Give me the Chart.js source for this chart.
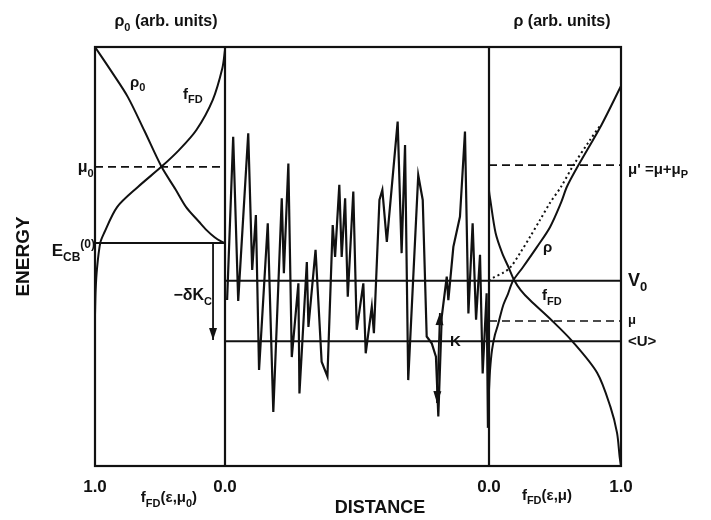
<!DOCTYPE html>
<html>
<head>
<meta charset="utf-8">
<script src="https://cdn.jsdelivr.net/npm/chart.js@4.4.1/dist/chart.umd.min.js"></script>
<style>
  body { margin: 0; background: #fff; }
  #wrap { width: 711px; height: 520px; }
</style>
</head>
<body>
<div id="wrap"><canvas id="grafico" width="711" height="520"></canvas></div>
<script>
// energy scale: 0 = bottom of frame, 100 = top (arb. units)
const mu0 = 71.4;
const eCB = 53.2;
const v0 = 44.2;
const muLevel = 34.6;
const uMean = 29.8;
const muPrime = 71.8;

// left panel, x = value (1 at left edge, 0 at the divider)
const rho0Val = [1.0, 0.87, 0.748, 0.62, 0.488, 0.38, 0.299, 0.2, 0.142, 0.08, 0.03, 0.0];
const rho0E   = [100, 94, 88.1, 80, 71.4, 66, 61.8, 58.3, 56.3, 54.6, 53.6, 53.2];
const fdLeftVal = [0.0, 0.02, 0.094, 0.22, 0.354, 0.49, 0.67, 0.83, 0.93, 0.96, 0.985, 0.995, 1.0];
const fdLeftE   = [99.3, 95, 87.4, 80.2, 75.4, 71.4, 66.6, 61.8, 55.6, 53.2, 47, 42, 36];

// middle panel: random potential vs distance (0..100)
const potD = [0.8, 3.1, 5.0, 8.8, 10.3, 11.7, 12.9, 16.2, 18.3, 21.5, 22.3, 24.0, 25.3, 27.8, 28.2,
  31.0, 31.6, 34.3, 36.6, 38.8, 40.8, 41.7, 43.3, 44.2, 45.5, 46.5, 48.6, 49.9, 52.4, 53.3,
  55.6, 56.4, 58.5, 59.6, 61.3, 65.4, 66.9, 68.2, 69.4, 73.2, 74.9, 76.4, 78.3, 79.9, 80.8,
  82.1, 84.0, 84.6, 86.5, 89.0, 90.9, 92.2, 93.8, 95.1, 96.6, 97.6, 99.1, 99.6, 100];
const potE = [39.6, 78.6, 39.4, 79.4, 46.8, 59.9, 22.9, 57.9, 12.9, 63.9, 46.0, 72.2, 26.0, 43.6, 17.3,
  48.7, 33.2, 51.6, 24.9, 21.4, 57.5, 49.9, 67.1, 49.9, 63.9, 40.4, 65.5, 32.5, 43.6, 26.9,
  38.0, 31.7, 63.5, 65.9, 53.5, 82.2, 50.8, 76.6, 20.5, 69.4, 63.5, 30.9, 29.3, 26.1, 11.8,
  35.6, 45.2, 39.6, 52.3, 59.5, 79.8, 36.4, 57.9, 34.9, 50.4, 22.1, 41.2, 9.1, 32.0];

// right panel, x = value (0 at the divider, 1 at right edge)
const fdRightVal = [0.0, 0.0, 0.01, 0.05, 0.10, 0.15, 0.19, 0.24, 0.31, 0.48, 0.63, 0.82, 0.92, 0.97, 0.99, 1.0];
const fdRightE   = [80, 66, 63.5, 55.6, 50.8, 47.3, 44.4, 42.0, 39.6, 34.6, 29.8, 22.2, 14.1, 7.9, 2.1, 0];
const rhoVal = [0.0, 0.008, 0.023, 0.045, 0.068, 0.106, 0.144, 0.182, 0.258, 0.364, 0.462, 0.545, 0.591, 0.674, 0.852, 1.0];
const rhoE   = [18.1, 22.9, 27.7, 31.3, 33.7, 38.2, 41.1, 44.2, 47.5, 52.3, 57.0, 62.8, 66.7, 71.6, 81.4, 90.7];
const rhoIdealVal = [0.0, 0.03, 0.106, 0.159, 0.235, 0.311, 0.386, 0.462, 0.545, 0.636, 0.765, 0.845];
const rhoIdealE   = [44.2, 44.9, 46.1, 47.3, 50.8, 54.7, 58.7, 62.8, 66.6, 71.6, 77.8, 81.4];

// arrows
const dKcX = [0.092, 0.092];
const dKcE = [eCB, 30.1];
const kX = [81.4, 80.3];
const kE = [36.5, 15.0];

const preto = '#111';

Chart.defaults.font.family = '"Liberation Sans", Arial, Helvetica, sans-serif';
Chart.defaults.font.weight = 'bold';
Chart.defaults.color = preto;

// texto com _{sub} e ^{sup}
const rotulos = [
  {txt: 'ρ_{0} (arb. units)', eixo: 'xL', x: 0.454, y: 105.0, tam: 16, al: 'center'},
  {txt: 'ρ (arb. units)', eixo: 'xR', x: 0.553, y: 105.0, tam: 16, al: 'center'},
  {txt: 'ρ_{0}', eixo: 'xL', x: 0.731, y: 90.5, tam: 15, al: 'left'},
  {txt: 'f_{FD}', eixo: 'xL', x: 0.323, y: 87.6, tam: 15, al: 'left'},
  {txt: 'μ_{0}', eixo: 'xL', x: 1.01, y: 70.2, tam: 16, al: 'right'},
  {txt: 'E_{CB}^{(0)}', eixo: 'xL', x: 1.0, y: 50.1, tam: 17, al: 'right'},
  {txt: '−δK_{C}', eixo: 'xL', x: 0.1, y: 39.6, tam: 16, al: 'right'},
  {txt: 'K', eixo: 'xM', x: 85.2, y: 28.6, tam: 15, al: 'left'},
  {txt: 'ρ', eixo: 'xR', x: 0.409, y: 51.1, tam: 15, al: 'left'},
  {txt: 'f_{FD}', eixo: 'xR', x: 0.402, y: 39.5, tam: 15, al: 'left'},
  {txt: "μ' =μ+μ_{P}", eixo: 'xR', x: 1.053, y: 69.7, tam: 15, al: 'left'},
  {txt: 'V_{0}', eixo: 'xR', x: 1.053, y: 43.0, tam: 18, al: 'left'},
  {txt: 'μ', eixo: 'xR', x: 1.053, y: 33.9, tam: 13, al: 'left'},
  {txt: '<U>', eixo: 'xR', x: 1.053, y: 28.6, tam: 15, al: 'left'},
  {txt: 'f_{FD}(ε,μ_{0})', eixo: 'xL', x: 0.431, y: -8.6, tam: 15, al: 'center'},
  {txt: 'DISTANCE', eixo: 'xM', x: 58.7, y: -11.2, tam: 18, al: 'center'},
  {txt: 'f_{FD}(ε,μ)', eixo: 'xR', x: 0.439, y: -8.1, tam: 15, al: 'center'}
];

function partes(txt) {
  const out = [];
  const re = /([_^])\{([^}]*)\}|([^_^]+)/g;
  let m;
  while ((m = re.exec(txt))) {
    if (m[3]) out.push({t: m[3], k: 'n'});
    else out.push({t: m[2], k: m[1] === '_' ? 'sub' : 'sup'});
  }
  return out;
}

const linha = (eixo, xs, ys, extra) => Object.assign({
  xAxisID: eixo,
  yAxisID: 'y',
  data: xs.map((x, i) => ({x: x, y: ys[i]})),
  borderColor: preto,
  borderWidth: 2,
  pointRadius: 0,
  fill: false,
  tension: 0
}, extra || {});

const tracejado = {borderDash: [8, 5], borderWidth: 1.6};

const molduraPlugin = {
  id: 'moldura',
  afterDatasetsDraw(chart) {
    const {ctx, chartArea} = chart;
    const xL = chart.scales.xL, xR = chart.scales.xR;
    ctx.save();
    ctx.strokeStyle = preto;
    ctx.lineWidth = 2.2;
    ctx.strokeRect(chartArea.left, chartArea.top, chartArea.right - chartArea.left, chartArea.bottom - chartArea.top);
    [xL.getPixelForValue(0), xR.getPixelForValue(0)].forEach(px => {
      ctx.beginPath();
      ctx.moveTo(px, chartArea.top);
      ctx.lineTo(px, chartArea.bottom);
      ctx.stroke();
    });
    ctx.restore();
  }
};

function desenhaSeta(ctx, bx, by, ax, ay) {
  const ang = Math.atan2(ay - by, ax - bx);
  const comp = 12, meia = 4;
  ctx.beginPath();
  ctx.moveTo(ax, ay);
  ctx.lineTo(ax - comp * Math.cos(ang) + meia * Math.sin(ang), ay - comp * Math.sin(ang) - meia * Math.cos(ang));
  ctx.lineTo(ax - comp * Math.cos(ang) - meia * Math.sin(ang), ay - comp * Math.sin(ang) + meia * Math.cos(ang));
  ctx.closePath();
  ctx.fill();
}

const setasPlugin = {
  id: 'setas',
  afterDatasetsDraw(chart) {
    const ctx = chart.ctx;
    ctx.save();
    ctx.fillStyle = preto;
    chart.data.datasets.forEach((ds, i) => {
      if (!ds.setas) return;
      const p = chart.getDatasetMeta(i).data;
      ds.setas.forEach(ponta => {
        if (ponta === 'fim') desenhaSeta(ctx, p[p.length - 2].x, p[p.length - 2].y, p[p.length - 1].x, p[p.length - 1].y);
        else desenhaSeta(ctx, p[1].x, p[1].y, p[0].x, p[0].y);
      });
    });
    ctx.restore();
  }
};

const textosPlugin = {
  id: 'textos',
  afterDraw(chart) {
    const ctx = chart.ctx;
    const y = chart.scales.y;
    ctx.save();
    ctx.fillStyle = preto;
    ctx.textBaseline = 'alphabetic';
    ctx.textAlign = 'left';
    rotulos.forEach(r => {
      const px = chart.scales[r.eixo].getPixelForValue(r.x);
      const py = y.getPixelForValue(r.y);
      const pedacos = partes(r.txt).map(p => {
        const tam = p.k === 'n' ? r.tam : Math.round(r.tam * 0.7);
        const fonte = 'bold ' + tam + 'px "Liberation Sans", Arial, sans-serif';
        ctx.font = fonte;
        const dy = p.k === 'sub' ? r.tam * 0.3 : (p.k === 'sup' ? -r.tam * 0.45 : 0);
        return {t: p.t, fonte: fonte, dy: dy, w: ctx.measureText(p.t).width};
      });
      const total = pedacos.reduce((s, p) => s + p.w, 0);
      let x = r.al === 'center' ? px - total / 2 : (r.al === 'right' ? px - total : px);
      pedacos.forEach(p => {
        ctx.font = p.fonte;
        ctx.fillText(p.t, x, py + p.dy);
        x += p.w;
      });
    });
    ctx.restore();
  }
};

const eixoPainel = (peso, extra) => Object.assign({
  type: 'linear',
  position: 'bottom',
  stack: 'paineis',
  stackWeight: peso,
  grid: {display: false, drawTicks: false},
  border: {display: false},
  afterFit: s => { s.height = 54; }
}, extra);

const ticksUnidade = {
  autoSkip: false,
  maxRotation: 0,
  padding: 11,
  font: {size: 17, weight: 'bold'},
  callback: v => v.toFixed(1)
};

new Chart(document.getElementById('grafico'), {
  type: 'line',
  data: {
    datasets: [
      linha('xL', rho0Val, rho0E, {tension: 0.3}),
      linha('xL', fdLeftVal, fdLeftE, {tension: 0.3}),
      linha('xL', [1, 0], [mu0, mu0], tracejado),
      linha('xL', [1, 0], [eCB, eCB]),
      linha('xL', dKcX, dKcE, {borderWidth: 1.8, setas: ['fim']}),
      linha('xM', potD, potE, {borderWidth: 2.2}),
      linha('xM', [0, 100], [v0, v0]),
      linha('xR', [0, 1], [v0, v0]),
      linha('xM', [0, 100], [uMean, uMean]),
      linha('xR', [0, 1], [uMean, uMean]),
      linha('xR', [0, 1], [muLevel, muLevel], tracejado),
      linha('xR', [0, 1], [muPrime, muPrime], tracejado),
      linha('xM', kX, kE, {borderWidth: 1.8, setas: ['inicio', 'fim']}),
      linha('xR', fdRightVal, fdRightE, {tension: 0.3}),
      linha('xR', rhoVal, rhoE, {tension: 0.3}),
      linha('xR', rhoIdealVal, rhoIdealE, {tension: 0.3, borderDash: [2, 3], borderWidth: 2})
    ]
  },
  options: {
    responsive: false,
    animation: false,
    devicePixelRatio: 1,
    layout: {padding: {top: 47, right: 0, bottom: 0, left: 0}},
    plugins: {legend: {display: false}, tooltip: {enabled: false}},
    scales: {
      y: {
        type: 'linear',
        position: 'left',
        min: 0,
        max: 100,
        grid: {display: false, drawTicks: false},
        border: {display: false},
        ticks: {display: false},
        title: {display: true, text: 'ENERGY', font: {size: 19, weight: 'bold'}, padding: {top: 12, bottom: 0}},
        afterFit: s => { s.width = 95; }
      },
      yR: {
        type: 'linear',
        position: 'right',
        min: 0,
        max: 100,
        grid: {display: false, drawTicks: false},
        border: {display: false},
        ticks: {display: false},
        afterFit: s => { s.width = 90; }
      },
      xL: eixoPainel(130, {
        min: 0, max: 1, reverse: true,
        afterBuildTicks: s => { s.ticks = [{value: 0}, {value: 1}]; },
        ticks: ticksUnidade
      }),
      xM: eixoPainel(264, {
        min: 0, max: 100,
        ticks: {display: false}
      }),
      xR: eixoPainel(132, {
        min: 0, max: 1,
        afterBuildTicks: s => { s.ticks = [{value: 0}, {value: 1}]; },
        ticks: ticksUnidade
      })
    }
  },
  plugins: [molduraPlugin, setasPlugin, textosPlugin]
});
</script>
</body>
</html>
